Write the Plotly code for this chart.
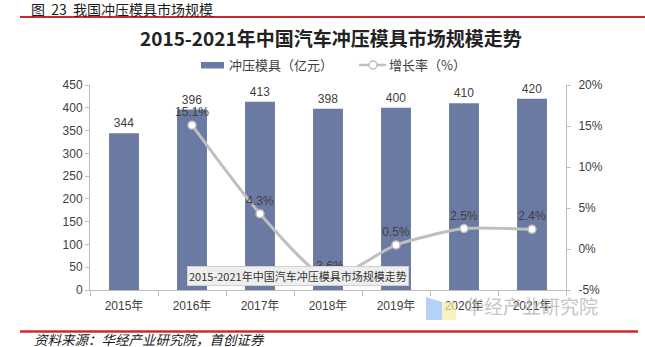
import plotly.graph_objects as go

# ---- data ----
years = ["2015年", "2016年", "2017年", "2018年", "2019年", "2020年", "2021年"]
market_size = [344, 396, 413, 398, 400, 410, 420]           # 亿元
growth_years = ["2016年", "2017年", "2018年", "2019年", "2020年", "2021年"]
growth_rate = [15.1, 4.3, -3.6, 0.5, 2.5, 2.4]              # %
left_ticks = [0, 50, 100, 150, 200, 250, 300, 350, 400, 450]
right_tickvals = [-5, 0, 5, 10, 15, 20]
right_ticktext = ["-5%", "0%", "5%", "10%", "15%", "20%"]

bar_name = "冲压模具（亿元）"
line_name = "增长率（%）"
chart_title = "2015-2021年中国汽车冲压模具市场规模走势"
header = "图  23  我国冲压模具市场规模"
source = "资料来源：华经产业研究院，首创证券"
watermark = "华经产业研究院"

FONT = "Liberation Sans, Arial, Noto Sans CJK SC, sans-serif"
CJK = "Noto Sans CJK SC, sans-serif"
BAR_COLOR = "#6B7AA2"
LINE_COLOR = "#BFBFBF"
TEXT = "#404040"
AXIS = "#BFBFBF"
RED = "#D0282C"

# plot-area geometry in pixels
L, R, T, B = 90, 566, 85, 290
W, H = 645, 347

fig = go.Figure()
fig.add_trace(go.Bar(
    x=years, y=market_size, name=bar_name,
    marker=dict(color=BAR_COLOR, line=dict(width=0)),
    text=[str(v) for v in market_size], textposition="outside",
    textfont=dict(size=12, color=TEXT, family=FONT),
    cliponaxis=False, showlegend=False,
))
fig.add_trace(go.Scatter(
    x=growth_years, y=growth_rate, name=line_name, yaxis="y2",
    mode="lines+markers+text",
    line=dict(color=LINE_COLOR, width=3, shape="spline", smoothing=0.6),
    marker=dict(symbol="circle", size=8, color="white",
                line=dict(color=LINE_COLOR, width=1.5)),
    text=[f"{v}%" for v in growth_rate], textposition="top center",
    textfont=dict(size=12, color=TEXT, family=FONT),
    cliponaxis=False, showlegend=False,
))

fig.update_layout(
    width=W, height=H,
    margin=dict(l=L, r=W - R, t=T, b=H - B),
    paper_bgcolor="white", plot_bgcolor="white",
    bargap=0.56,
    font=dict(family=FONT, size=12, color=TEXT),
    xaxis=dict(
        showline=True, linecolor=AXIS, linewidth=1,
        ticks="outside", tickson="boundaries", ticklen=5, tickcolor=AXIS,
        showgrid=False, ticklabelstandoff=5,
        tickfont=dict(size=12, color=TEXT, family=FONT),
    ),
    yaxis=dict(
        range=[0, 450], tickvals=left_ticks,
        showline=True, linecolor=AXIS, linewidth=1,
        ticks="outside", ticklen=4, tickcolor=AXIS,
        showgrid=False, zeroline=False,
        tickfont=dict(size=12, color=TEXT, family=FONT),
    ),
    yaxis2=dict(
        range=[-5, 20], tickvals=right_tickvals, ticktext=right_ticktext,
        overlaying="y", side="right",
        showline=True, linecolor=AXIS, linewidth=1,
        ticks="outside", ticklen=4, tickcolor=AXIS,
        showgrid=False, zeroline=False, ticklabelstandoff=5,
        tickfont=dict(size=12, color=TEXT, family=FONT),
    ),
    showlegend=False,
)

def px_x(p):
    return (p - L) / (R - L)

def px_y(p):
    return (B - p) / (B - T)

annotations = [
    dict(text=header, x=px_x(29), y=px_y(9), xref="paper", yref="paper",
         xanchor="left", yanchor="middle", showarrow=False,
         font=dict(family=CJK, size=14, color="#1a1a1a")),
    dict(text=f"<b>{chart_title}</b>", x=px_x(331), y=px_y(37), xref="paper", yref="paper",
         xanchor="center", yanchor="middle", showarrow=False,
         font=dict(family=CJK, size=19, color="#222222")),
    dict(text=bar_name, x=px_x(227), y=px_y(65), xref="paper", yref="paper",
         xanchor="left", yanchor="middle", showarrow=False,
         font=dict(family=CJK, size=13, color=TEXT)),
    dict(text=line_name, x=px_x(387), y=px_y(65), xref="paper", yref="paper",
         xanchor="left", yanchor="middle", showarrow=False,
         font=dict(family=CJK, size=13, color=TEXT)),
    dict(text=chart_title, x=px_x(298), y=px_y(276), xref="paper", yref="paper",
         xanchor="center", yanchor="middle", showarrow=False,
         bgcolor="#EEEEEE", bordercolor="#D0D0D0", borderwidth=1, borderpad=1,
         font=dict(family=CJK, size=11, color="#333333")),
    dict(text=watermark, x=px_x(531), y=px_y(305), xref="paper", yref="paper",
         xanchor="center", yanchor="middle", showarrow=False, opacity=0.8,
         font=dict(family=CJK, size=19, color="#B8B8B8")),
    dict(text=f"<i>{source}</i>", x=px_x(32), y=px_y(338.5), xref="paper", yref="paper",
         xanchor="left", yanchor="middle", showarrow=False,
         font=dict(family=CJK, size=13.5, color="#1a1a1a")),
]
fig.update_layout(annotations=annotations)

shapes = [
    dict(type="line", xref="paper", yref="paper", x0=px_x(20), x1=px_x(645),
         y0=px_y(17), y1=px_y(17), line=dict(color=RED, width=2)),
    dict(type="line", xref="paper", yref="paper", x0=px_x(20), x1=px_x(638),
         y0=px_y(331.5), y1=px_y(331.5), line=dict(color=RED, width=2.5)),
    dict(type="rect", xref="paper", yref="paper", x0=px_x(201), x1=px_x(224),
         y0=px_y(68.5), y1=px_y(62), fillcolor=BAR_COLOR, line=dict(width=0)),
    dict(type="line", xref="paper", yref="paper", x0=px_x(359), x1=px_x(386),
         y0=px_y(65), y1=px_y(65), line=dict(color=LINE_COLOR, width=2.5)),
    dict(type="circle", xref="paper", yref="paper", x0=px_x(369), x1=px_x(377),
         y0=px_y(69), y1=px_y(61), fillcolor="white",
         line=dict(color=LINE_COLOR, width=1.5)),
    dict(type="path", xref="paper", yref="paper", layer="above",
         path=f"M {px_x(426)} {px_y(297)} L {px_x(442)} {px_y(302)} L {px_x(442)} {px_y(320)} L {px_x(426)} {px_y(320)} Z",
         fillcolor="rgba(150,190,245,0.7)", line=dict(width=0)),
    dict(type="rect", xref="paper", yref="paper", layer="above",
         x0=px_x(442), x1=px_x(456), y0=px_y(302), y1=px_y(320),
         fillcolor="rgba(245,235,170,0.7)", line=dict(width=0)),
]
fig.update_layout(shapes=shapes)

fig.write_html("out.html")
